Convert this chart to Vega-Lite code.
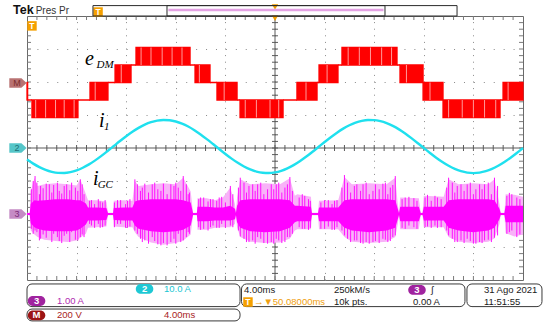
{
"$schema":"https://vega.github.io/schema/vega-lite/v6.json",
"width":496,"height":264,"autosize":"none",
"padding":{"left":27,"top":16,"right":22,"bottom":42},
"background":"#ffffff",
"config":{"view":{"stroke":"#6a6a6a","strokeWidth":1},"font":"Liberation Sans"},
"datasets":{
"xt":[{"t":0.8},{"t":1.6},{"t":2.4},{"t":3.2},{"t":4},{"t":4.8},{"t":5.6},{"t":6.4},{"t":7.2},{"t":8},{"t":8.8},{"t":9.6},{"t":10.4},{"t":11.2},{"t":12},{"t":12.8},{"t":13.6},{"t":14.4},{"t":15.2},{"t":16},{"t":16.8},{"t":17.6},{"t":18.4},{"t":19.2},{"t":20},{"t":20.8},{"t":21.6},{"t":22.4},{"t":23.2},{"t":24},{"t":24.8},{"t":25.6},{"t":26.4},{"t":27.2},{"t":28},{"t":28.8},{"t":29.6},{"t":30.4},{"t":31.2},{"t":32},{"t":32.8},{"t":33.6},{"t":34.4},{"t":35.2},{"t":36},{"t":36.8},{"t":37.6},{"t":38.4},{"t":39.2}],
"yt":[{"v":-3.8},{"v":-3.6},{"v":-3.4},{"v":-3.2},{"v":-3},{"v":-2.8},{"v":-2.6},{"v":-2.4},{"v":-2.2},{"v":-2},{"v":-1.8},{"v":-1.6},{"v":-1.4},{"v":-1.2},{"v":-1},{"v":-0.8},{"v":-0.6},{"v":-0.4},{"v":-0.2},{"v":0},{"v":0.2},{"v":0.4},{"v":0.6},{"v":0.8},{"v":1},{"v":1.2},{"v":1.4},{"v":1.6},{"v":1.8},{"v":2},{"v":2.2},{"v":2.4},{"v":2.6},{"v":2.8},{"v":3},{"v":3.2},{"v":3.4},{"v":3.6},{"v":3.8}],
"edm":[
{"t0":0,"t1":0.05,"lo":-106,"hi":0},
{"t0":0.05,"t1":0.4,"lo":-106,"hi":-106},
{"t0":0.4,"t1":4.11,"lo":-212,"hi":-106},
{"t0":4.11,"t1":5.08,"lo":-106,"hi":-106},
{"t0":5.08,"t1":6.53,"lo":-106,"hi":0},
{"t0":6.53,"t1":7.1,"lo":0,"hi":0},
{"t0":7.1,"t1":8.39,"lo":0,"hi":106},
{"t0":8.39,"t1":8.79,"lo":106,"hi":106},
{"t0":8.79,"t1":13.15,"lo":106,"hi":212},
{"t0":13.15,"t1":13.55,"lo":106,"hi":106},
{"t0":13.55,"t1":14.76,"lo":0,"hi":106},
{"t0":14.76,"t1":15.32,"lo":0,"hi":0},
{"t0":15.32,"t1":16.94,"lo":-106,"hi":0},
{"t0":16.94,"t1":17.18,"lo":-106,"hi":-106},
{"t0":17.18,"t1":20.65,"lo":-212,"hi":-106},
{"t0":20.65,"t1":21.77,"lo":-106,"hi":-106},
{"t0":21.77,"t1":23.39,"lo":-106,"hi":0},
{"t0":23.39,"t1":23.55,"lo":0,"hi":0},
{"t0":23.55,"t1":25.08,"lo":0,"hi":106},
{"t0":25.08,"t1":25.4,"lo":106,"hi":106},
{"t0":25.4,"t1":29.84,"lo":106,"hi":212},
{"t0":29.84,"t1":30.08,"lo":106,"hi":106},
{"t0":30.08,"t1":31.94,"lo":0,"hi":106},
{"t0":31.94,"t1":33.55,"lo":-106,"hi":0},
{"t0":33.55,"t1":38.15,"lo":-212,"hi":-106},
{"t0":38.15,"t1":38.39,"lo":-106,"hi":-106},
{"t0":38.39,"t1":40,"lo":-106,"hi":0}],
"eds":[
{"t":0.7,"lo":-212,"hi":-106},{"t":1.5,"lo":-212,"hi":-106},{"t":2.3,"lo":-212,"hi":-106},{"t":3.0,"lo":-212,"hi":-106},{"t":3.8,"lo":-212,"hi":-106},
{"t":5.5,"lo":-106,"hi":0},{"t":7.6,"lo":0,"hi":106},
{"t":9.2,"lo":106,"hi":212},{"t":10.0,"lo":106,"hi":212},{"t":10.9,"lo":106,"hi":212},{"t":11.7,"lo":106,"hi":212},{"t":12.5,"lo":106,"hi":212},
{"t":13.9,"lo":0,"hi":106},{"t":15.9,"lo":-106,"hi":0},
{"t":17.6,"lo":-212,"hi":-106},{"t":18.5,"lo":-212,"hi":-106},{"t":19.6,"lo":-212,"hi":-106},{"t":20.3,"lo":-212,"hi":-106},
{"t":22.5,"lo":-106,"hi":0},{"t":24.2,"lo":0,"hi":106},
{"t":25.9,"lo":106,"hi":212},{"t":26.8,"lo":106,"hi":212},{"t":27.7,"lo":106,"hi":212},{"t":28.6,"lo":106,"hi":212},{"t":29.4,"lo":106,"hi":212},
{"t":30.6,"lo":0,"hi":106},{"t":32.5,"lo":-106,"hi":0},
{"t":34.0,"lo":-212,"hi":-106},{"t":35.1,"lo":-212,"hi":-106},{"t":36.0,"lo":-212,"hi":-106},{"t":36.9,"lo":-212,"hi":-106},{"t":37.8,"lo":-212,"hi":-106},
{"t":38.8,"lo":-106,"hi":0}],
"i1":[{"t":0,"i":-3.49},{"t":0.5,"i":-4.74},{"t":1,"i":-5.8},{"t":1.5,"i":-6.64},{"t":2,"i":-7.23},{"t":2.5,"i":-7.55},{"t":3,"i":-7.58},{"t":3.5,"i":-7.32},{"t":4,"i":-6.78},{"t":4.5,"i":-5.99},{"t":5,"i":-4.97},{"t":5.5,"i":-3.75},{"t":6,"i":-2.38},{"t":6.5,"i":-0.91},{"t":7,"i":0.6},{"t":7.5,"i":2.11},{"t":8,"i":3.57},{"t":8.5,"i":4.91},{"t":9,"i":6.09},{"t":9.5,"i":7.07},{"t":10,"i":7.81},{"t":10.5,"i":8.29},{"t":11,"i":8.49},{"t":11.5,"i":8.41},{"t":12,"i":8.04},{"t":12.5,"i":7.4},{"t":13,"i":6.51},{"t":13.5,"i":5.4},{"t":14,"i":4.12},{"t":14.5,"i":2.7},{"t":15,"i":1.21},{"t":15.5,"i":-0.31},{"t":16,"i":-1.8},{"t":16.5,"i":-3.22},{"t":17,"i":-4.5},{"t":17.5,"i":-5.61},{"t":18,"i":-6.5},{"t":18.5,"i":-7.14},{"t":19,"i":-7.51},{"t":19.5,"i":-7.59},{"t":20,"i":-7.39},{"t":20.5,"i":-6.91},{"t":21,"i":-6.17},{"t":21.5,"i":-5.19},{"t":22,"i":-4.01},{"t":22.5,"i":-2.67},{"t":23,"i":-1.21},{"t":23.5,"i":0.3},{"t":24,"i":1.81},{"t":24.5,"i":3.28},{"t":25,"i":4.65},{"t":25.5,"i":5.87},{"t":26,"i":6.89},{"t":26.5,"i":7.68},{"t":27,"i":8.22},{"t":27.5,"i":8.48},{"t":28,"i":8.45},{"t":28.5,"i":8.13},{"t":29,"i":7.54},{"t":29.5,"i":6.7},{"t":30,"i":5.64},{"t":30.5,"i":4.39},{"t":31,"i":2.99},{"t":31.5,"i":1.51},{"t":32,"i":-0.01},{"t":32.5,"i":-1.51},{"t":33,"i":-2.95},{"t":33.5,"i":-4.26},{"t":34,"i":-5.4},{"t":34.5,"i":-6.34},{"t":35,"i":-7.03},{"t":35.5,"i":-7.46},{"t":36,"i":-7.6},{"t":36.5,"i":-7.46},{"t":37,"i":-7.03},{"t":37.5,"i":-6.34},{"t":38,"i":-5.4},{"t":38.5,"i":-4.26},{"t":39,"i":-2.94},{"t":39.5,"i":-1.51},{"t":40,"i":0}],
"igc":[
{"t":0,"hi":0.04,"lo":-0.04,"chi":0.03,"clo":-0.03},
{"t":0.22,"hi":0.04,"lo":-0.04,"chi":0.03,"clo":-0.03},
{"t":0.3,"hi":0.7,"lo":-0.5,"chi":0.3,"clo":-0.28},
{"t":0.6,"hi":1.1,"lo":-0.62,"chi":0.42,"clo":-0.4},
{"t":0.85,"hi":0.85,"lo":-0.7,"chi":0.4,"clo":-0.45},
{"t":1.4,"hi":0.9,"lo":-0.78,"chi":0.42,"clo":-0.5},
{"t":2.3,"hi":0.93,"lo":-0.82,"chi":0.45,"clo":-0.52},
{"t":3.3,"hi":0.9,"lo":-0.85,"chi":0.45,"clo":-0.52},
{"t":4.0,"hi":0.86,"lo":-0.8,"chi":0.42,"clo":-0.5},
{"t":4.3,"hi":1.05,"lo":-0.72,"chi":0.42,"clo":-0.45},
{"t":4.75,"hi":0.6,"lo":-0.6,"chi":0.32,"clo":-0.32},
{"t":4.92,"hi":0.42,"lo":-0.42,"chi":0.2,"clo":-0.2},
{"t":5.6,"hi":0.42,"lo":-0.4,"chi":0.2,"clo":-0.2},
{"t":6.4,"hi":0.38,"lo":-0.38,"chi":0.18,"clo":-0.18},
{"t":6.53,"hi":0.04,"lo":-0.04,"chi":0.03,"clo":-0.03},
{"t":6.94,"hi":0.04,"lo":-0.04,"chi":0.03,"clo":-0.03},
{"t":7.0,"hi":0.4,"lo":-0.38,"chi":0.18,"clo":-0.18},
{"t":7.8,"hi":0.42,"lo":-0.4,"chi":0.2,"clo":-0.2},
{"t":8.5,"hi":0.4,"lo":-0.4,"chi":0.2,"clo":-0.2},
{"t":8.7,"hi":1.0,"lo":-0.55,"chi":0.38,"clo":-0.35},
{"t":9.0,"hi":0.85,"lo":-0.7,"chi":0.42,"clo":-0.45},
{"t":10.0,"hi":0.9,"lo":-0.86,"chi":0.45,"clo":-0.52},
{"t":11.0,"hi":0.93,"lo":-0.93,"chi":0.45,"clo":-0.55},
{"t":12.0,"hi":0.9,"lo":-0.88,"chi":0.45,"clo":-0.52},
{"t":12.6,"hi":1.1,"lo":-0.8,"chi":0.42,"clo":-0.48},
{"t":13.2,"hi":0.68,"lo":-0.62,"chi":0.35,"clo":-0.35},
{"t":13.39,"hi":0.04,"lo":-0.04,"chi":0.03,"clo":-0.03},
{"t":13.7,"hi":0.04,"lo":-0.04,"chi":0.03,"clo":-0.03},
{"t":13.75,"hi":0.48,"lo":-0.48,"chi":0.22,"clo":-0.22},
{"t":14.5,"hi":0.48,"lo":-0.48,"chi":0.22,"clo":-0.22},
{"t":15.16,"hi":0.42,"lo":-0.42,"chi":0.2,"clo":-0.2},
{"t":15.8,"hi":0.5,"lo":-0.4,"chi":0.2,"clo":-0.2},
{"t":16.4,"hi":0.8,"lo":-0.4,"chi":0.25,"clo":-0.2},
{"t":16.77,"hi":0.3,"lo":-0.3,"chi":0.16,"clo":-0.16},
{"t":16.85,"hi":0.04,"lo":-0.04,"chi":0.03,"clo":-0.03},
{"t":16.94,"hi":0.5,"lo":-0.4,"chi":0.25,"clo":-0.25},
{"t":17.2,"hi":1.05,"lo":-0.7,"chi":0.42,"clo":-0.42},
{"t":18.0,"hi":0.9,"lo":-0.84,"chi":0.45,"clo":-0.52},
{"t":19.2,"hi":0.93,"lo":-0.88,"chi":0.45,"clo":-0.55},
{"t":20.4,"hi":0.9,"lo":-0.86,"chi":0.45,"clo":-0.52},
{"t":21.2,"hi":1.08,"lo":-0.74,"chi":0.42,"clo":-0.42},
{"t":21.6,"hi":0.55,"lo":-0.5,"chi":0.25,"clo":-0.25},
{"t":21.8,"hi":0.6,"lo":-0.46,"chi":0.25,"clo":-0.22},
{"t":22.9,"hi":0.52,"lo":-0.46,"chi":0.22,"clo":-0.22},
{"t":22.98,"hi":0.04,"lo":-0.04,"chi":0.03,"clo":-0.03},
{"t":23.47,"hi":0.04,"lo":-0.04,"chi":0.03,"clo":-0.03},
{"t":23.55,"hi":0.4,"lo":-0.46,"chi":0.2,"clo":-0.22},
{"t":25.1,"hi":0.42,"lo":-0.46,"chi":0.2,"clo":-0.22},
{"t":25.6,"hi":1.12,"lo":-0.7,"chi":0.42,"clo":-0.42},
{"t":26.2,"hi":0.9,"lo":-0.84,"chi":0.45,"clo":-0.5},
{"t":27.6,"hi":0.93,"lo":-0.88,"chi":0.45,"clo":-0.55},
{"t":29.0,"hi":0.9,"lo":-0.84,"chi":0.45,"clo":-0.5},
{"t":29.7,"hi":1.1,"lo":-0.7,"chi":0.42,"clo":-0.42},
{"t":29.9,"hi":0.3,"lo":-0.3,"chi":0.16,"clo":-0.16},
{"t":30.0,"hi":0.04,"lo":-0.04,"chi":0.03,"clo":-0.03},
{"t":30.1,"hi":0.5,"lo":-0.46,"chi":0.22,"clo":-0.22},
{"t":31.6,"hi":0.48,"lo":-0.46,"chi":0.22,"clo":-0.22},
{"t":31.75,"hi":0.04,"lo":-0.04,"chi":0.03,"clo":-0.03},
{"t":31.9,"hi":0.04,"lo":-0.04,"chi":0.03,"clo":-0.03},
{"t":32.0,"hi":0.55,"lo":-0.4,"chi":0.22,"clo":-0.2},
{"t":33.6,"hi":0.52,"lo":-0.4,"chi":0.22,"clo":-0.2},
{"t":34.0,"hi":1.05,"lo":-0.7,"chi":0.42,"clo":-0.42},
{"t":34.8,"hi":0.9,"lo":-0.84,"chi":0.45,"clo":-0.5},
{"t":36.0,"hi":0.93,"lo":-0.88,"chi":0.45,"clo":-0.55},
{"t":37.2,"hi":0.9,"lo":-0.84,"chi":0.45,"clo":-0.5},
{"t":37.7,"hi":1.05,"lo":-0.74,"chi":0.42,"clo":-0.42},
{"t":38.1,"hi":0.3,"lo":-0.3,"chi":0.16,"clo":-0.16},
{"t":38.2,"hi":0.04,"lo":-0.04,"chi":0.03,"clo":-0.03},
{"t":38.5,"hi":0.04,"lo":-0.04,"chi":0.03,"clo":-0.03},
{"t":38.6,"hi":0.6,"lo":-0.58,"chi":0.25,"clo":-0.25},
{"t":39.3,"hi":0.58,"lo":-0.68,"chi":0.25,"clo":-0.25},
{"t":40,"hi":0.52,"lo":-0.62,"chi":0.25,"clo":-0.25}],
"spk":[
{"t":0.5,"hi":1.0,"lo":-0.6},{"t":0.65,"hi":1.15,"lo":-0.5},{"t":1.1,"hi":0.85,"lo":-0.75},{"t":1.8,"hi":0.9,"lo":-0.5},{"t":2.6,"hi":0.7,"lo":-0.82},{"t":3.2,"hi":0.9,"lo":-0.6},{"t":3.9,"hi":0.8,"lo":-0.78},{"t":4.3,"hi":1.05,"lo":-0.7},{"t":4.6,"hi":0.6,"lo":-0.7},
{"t":5.2,"hi":0.42,"lo":-0.35},{"t":5.9,"hi":0.38,"lo":-0.42},{"t":7.3,"hi":0.42,"lo":-0.3},{"t":8.1,"hi":0.4,"lo":-0.42},
{"t":8.7,"hi":1.05,"lo":-0.5},{"t":9.3,"hi":0.8,"lo":-0.85},{"t":10.1,"hi":0.9,"lo":-0.7},{"t":10.8,"hi":0.7,"lo":-0.95},{"t":11.6,"hi":0.9,"lo":-0.85},{"t":12.2,"hi":0.8,"lo":-0.6},{"t":12.6,"hi":1.15,"lo":-0.8},{"t":13.1,"hi":0.65,"lo":-0.6},
{"t":14.0,"hi":0.5,"lo":-0.48},{"t":14.8,"hi":0.45,"lo":-0.4},{"t":15.5,"hi":0.5,"lo":-0.42},{"t":16.4,"hi":0.85,"lo":-0.35},
{"t":17.2,"hi":1.1,"lo":-0.68},{"t":17.9,"hi":0.85,"lo":-0.85},{"t":18.6,"hi":0.9,"lo":-0.7},{"t":19.4,"hi":0.75,"lo":-0.9},{"t":20.1,"hi":0.9,"lo":-0.75},{"t":20.8,"hi":0.8,"lo":-0.85},{"t":21.2,"hi":1.12,"lo":-0.7},
{"t":22.2,"hi":0.6,"lo":-0.45},{"t":22.7,"hi":0.45,"lo":-0.48},{"t":24.0,"hi":0.42,"lo":-0.45},{"t":24.8,"hi":0.4,"lo":-0.48},
{"t":25.6,"hi":1.18,"lo":-0.65},{"t":26.4,"hi":0.85,"lo":-0.8},{"t":27.1,"hi":0.9,"lo":-0.9},{"t":27.9,"hi":0.7,"lo":-0.85},{"t":28.7,"hi":0.92,"lo":-0.75},{"t":29.3,"hi":0.8,"lo":-0.82},{"t":29.7,"hi":1.15,"lo":-0.65},
{"t":30.5,"hi":0.5,"lo":-0.45},{"t":31.2,"hi":0.48,"lo":-0.4},{"t":32.3,"hi":0.58,"lo":-0.38},{"t":33.1,"hi":0.5,"lo":-0.42},
{"t":34.0,"hi":1.1,"lo":-0.65},{"t":34.7,"hi":0.85,"lo":-0.85},{"t":35.5,"hi":0.9,"lo":-0.75},{"t":36.2,"hi":0.75,"lo":-0.9},{"t":36.9,"hi":0.9,"lo":-0.8},{"t":37.7,"hi":1.1,"lo":-0.72},
{"t":38.9,"hi":0.64,"lo":-0.55},{"t":39.5,"hi":0.5,"lo":-0.7},
{"t":0.35,"hi":0.75,"lo":-0.45},{"t":0.8,"hi":0.95,"lo":-0.55},{"t":1.0,"hi":0.6,"lo":-0.8},{"t":1.3,"hi":0.78,"lo":-0.62},{"t":1.55,"hi":0.92,"lo":-0.72},{"t":2.0,"hi":0.65,"lo":-0.85},{"t":2.15,"hi":0.88,"lo":-0.6},{"t":2.45,"hi":0.95,"lo":-0.7},{"t":2.8,"hi":0.62,"lo":-0.88},{"t":3.0,"hi":0.85,"lo":-0.66},{"t":3.45,"hi":0.72,"lo":-0.85},{"t":3.6,"hi":0.95,"lo":-0.55},{"t":4.1,"hi":0.7,"lo":-0.8},{"t":4.45,"hi":0.9,"lo":-0.62},
{"t":5.05,"hi":0.4,"lo":-0.3},{"t":5.45,"hi":0.3,"lo":-0.42},{"t":5.75,"hi":0.45,"lo":-0.3},{"t":6.1,"hi":0.35,"lo":-0.4},{"t":6.3,"hi":0.42,"lo":-0.35},
{"t":7.05,"hi":0.35,"lo":-0.4},{"t":7.55,"hi":0.42,"lo":-0.3},{"t":7.95,"hi":0.3,"lo":-0.42},{"t":8.3,"hi":0.45,"lo":-0.38},
{"t":8.9,"hi":0.9,"lo":-0.6},{"t":9.15,"hi":0.7,"lo":-0.75},{"t":9.5,"hi":0.92,"lo":-0.8},{"t":9.8,"hi":0.65,"lo":-0.9},{"t":10.3,"hi":0.95,"lo":-0.82},{"t":10.55,"hi":0.75,"lo":-0.92},{"t":11.0,"hi":0.92,"lo":-0.88},{"t":11.3,"hi":0.6,"lo":-0.95},{"t":11.85,"hi":0.85,"lo":-0.75},{"t":12.0,"hi":0.95,"lo":-0.9},{"t":12.4,"hi":0.7,"lo":-0.85},{"t":12.85,"hi":0.9,"lo":-0.7},{"t":13.0,"hi":0.6,"lo":-0.55},
{"t":13.85,"hi":0.45,"lo":-0.4},{"t":14.25,"hi":0.5,"lo":-0.45},{"t":14.6,"hi":0.38,"lo":-0.5},{"t":15.0,"hi":0.45,"lo":-0.35},{"t":15.3,"hi":0.4,"lo":-0.42},{"t":15.7,"hi":0.52,"lo":-0.3},{"t":16.0,"hi":0.35,"lo":-0.42},{"t":16.6,"hi":0.6,"lo":-0.4},
{"t":17.05,"hi":0.8,"lo":-0.5},{"t":17.5,"hi":0.95,"lo":-0.75},{"t":17.7,"hi":0.65,"lo":-0.85},{"t":18.2,"hi":0.9,"lo":-0.8},{"t":18.4,"hi":0.7,"lo":-0.9},{"t":18.85,"hi":0.95,"lo":-0.75},{"t":19.1,"hi":0.6,"lo":-0.88},{"t":19.7,"hi":0.9,"lo":-0.85},{"t":19.9,"hi":0.75,"lo":-0.9},{"t":20.3,"hi":0.95,"lo":-0.8},{"t":20.55,"hi":0.65,"lo":-0.88},{"t":21.0,"hi":0.9,"lo":-0.7},{"t":21.4,"hi":0.7,"lo":-0.6},
{"t":21.95,"hi":0.5,"lo":-0.4},{"t":22.4,"hi":0.55,"lo":-0.45},{"t":22.85,"hi":0.4,"lo":-0.42},{"t":23.7,"hi":0.35,"lo":-0.45},{"t":24.3,"hi":0.42,"lo":-0.38},{"t":24.6,"hi":0.3,"lo":-0.48},{"t":25.0,"hi":0.42,"lo":-0.4},
{"t":25.4,"hi":0.8,"lo":-0.5},{"t":25.85,"hi":0.95,"lo":-0.75},{"t":26.1,"hi":0.65,"lo":-0.85},{"t":26.6,"hi":0.9,"lo":-0.8},{"t":26.9,"hi":0.7,"lo":-0.88},{"t":27.35,"hi":0.95,"lo":-0.85},{"t":27.6,"hi":0.6,"lo":-0.9},{"t":28.1,"hi":0.9,"lo":-0.82},{"t":28.4,"hi":0.75,"lo":-0.88},{"t":28.9,"hi":0.95,"lo":-0.78},{"t":29.1,"hi":0.6,"lo":-0.85},{"t":29.5,"hi":0.88,"lo":-0.7},
{"t":30.25,"hi":0.45,"lo":-0.42},{"t":30.8,"hi":0.52,"lo":-0.35},{"t":31.45,"hi":0.4,"lo":-0.45},{"t":32.1,"hi":0.5,"lo":-0.4},{"t":32.6,"hi":0.4,"lo":-0.42},{"t":32.9,"hi":0.55,"lo":-0.35},{"t":33.4,"hi":0.45,"lo":-0.4},
{"t":33.85,"hi":0.8,"lo":-0.5},{"t":34.3,"hi":0.95,"lo":-0.75},{"t":34.5,"hi":0.65,"lo":-0.85},{"t":35.0,"hi":0.9,"lo":-0.8},{"t":35.25,"hi":0.7,"lo":-0.88},{"t":35.75,"hi":0.95,"lo":-0.82},{"t":36.0,"hi":0.6,"lo":-0.9},{"t":36.5,"hi":0.9,"lo":-0.85},{"t":36.7,"hi":0.75,"lo":-0.88},{"t":37.2,"hi":0.95,"lo":-0.78},{"t":37.45,"hi":0.6,"lo":-0.85},{"t":37.95,"hi":0.85,"lo":-0.65},
{"t":38.7,"hi":0.55,"lo":-0.6},{"t":39.1,"hi":0.6,"lo":-0.5},{"t":39.75,"hi":0.45,"lo":-0.62}],
"sigmain":[{"t":4.68,"v":2.515,"s":"e"},{"t":5.8,"v":0.636,"s":"i"},{"t":5.32,"v":-1.12,"s":"i"}],
"sigsub":[{"t":5.6,"v":2.42,"s":"DM"},{"t":6.2,"v":0.545,"s":"1"},{"t":5.7,"v":-1.21,"s":"GC"}],
"boxes":[{"t0":0,"t1":17.18,"v0":-4.12,"v1":-4.806},{"t0":0,"t1":17.18,"v0":-4.88,"v1":-5.24},{"t0":17.3,"t1":35.32,"v0":-4.12,"v1":-4.806},{"t0":35.48,"t1":41.53,"v0":-4.12,"v1":-4.806}],
"badges":[{"t":9.48,"v":-4.27,"s":"2","g":"c2"},{"t":0.77,"v":-4.636,"s":"3","g":"c3"},{"t":0.77,"v":-5.07,"s":"M","g":"m"},{"t":31.45,"v":-4.3,"s":"3","g":"c3"}],
"info":[{"t":11.05,"v":-4.27,"s":"10.0 A","g":"c2"},{"t":2.42,"v":-4.636,"s":"1.00 A","g":"c3"},{"t":2.42,"v":-5.07,"s":"200 V","g":"m"},{"t":11.05,"v":-5.07,"s":"4.00ms","g":"m"},{"t":17.5,"v":-4.3,"s":"4.00ms","g":"k"},{"t":24.76,"v":-4.3,"s":"250kM/s","g":"k"},{"t":18.3,"v":-4.667,"s":"→▼50.08000ms","g":"o"},{"t":24.76,"v":-4.667,"s":"10k pts.","g":"k"},{"t":31.13,"v":-4.667,"s":"0.00 A","g":"k"},{"t":36.85,"v":-4.3,"s":"31 Ago 2021","g":"k"},{"t":36.85,"v":-4.667,"s":"11:51:55","g":"k"},{"t":32.6,"v":-4.3,"s":"ʃ","g":"k"}],
"markers":[{"t":-0.73,"v":1.97,"s":"M","g":"m"},{"t":-0.73,"v":0,"s":"2","g":"c2"},{"t":-0.73,"v":-2,"s":"3","g":"c3"}],
"orangeT":[{"t":0.4,"v":3.7},{"t":5.73,"v":4.12},{"t":17.82,"v":-4.667}],
"tri":[{"t":20,"v":3.93},{"t":20,"v":4.27}],
"topboxes":[{"t0":5.32,"t1":34.68,"v0":4.0,"v1":4.315},{"t0":11.29,"t1":28.87,"v0":4.0,"v1":4.315}],
"topline":[{"t0":11.4,"t1":28.75,"v":4.18}],
"brand":[{"t":-1.13,"v":4.06,"s":"Tek"}],
"brand2":[{"t":0.7,"v":4.06,"s":"Pres Pr"}]
},
"resolve":{"scale":{"y":"independent","color":"independent"},"axis":{"x":"independent","y":"independent"}},
"layer":[
{"data":{"values":[{"t":20}]},"mark":{"type":"rule","color":"#5a5a5a","strokeWidth":1},
 "encoding":{"x":{"field":"t","type":"quantitative","scale":{"domain":[0,40],"nice":false},"axis":{"orient":"bottom","values":[4,8,12,16,20,24,28,32,36],"grid":true,"gridDash":[1,5.6],"gridColor":"#8a8a8a","gridOpacity":1,"labels":false,"ticks":false,"domain":false,"title":null}}}},
{"data":{"values":[{"v":0}]},"mark":{"type":"rule","color":"#5a5a5a","strokeWidth":1},
 "encoding":{"y":{"field":"v","type":"quantitative","scale":{"domain":[-4,4],"nice":false},"axis":{"orient":"left","values":[-3,-2,-1,1,2,3],"grid":true,"gridDash":[1,8.92],"gridColor":"#8a8a8a","gridOpacity":1,"labels":false,"ticks":false,"domain":false,"title":null}}}},
{"data":{"name":"xt"},"mark":{"type":"tick","orient":"vertical","size":6,"thickness":1,"color":"#5a5a5a","opacity":1},
 "encoding":{"x":{"field":"t","type":"quantitative","scale":{"domain":[0,40],"nice":false},"axis":null},"y":{"datum":0,"type":"quantitative","scale":{"domain":[-4,4],"nice":false},"axis":null}}},
{"data":{"name":"xt"},"mark":{"type":"tick","orient":"vertical","size":4,"thickness":1,"color":"#7a7a7a","opacity":1},
 "encoding":{"x":{"field":"t","type":"quantitative","scale":{"domain":[0,40],"nice":false},"axis":null},"y":{"datum":3.94,"type":"quantitative","scale":{"domain":[-4,4],"nice":false},"axis":null}}},
{"data":{"name":"xt"},"mark":{"type":"tick","orient":"vertical","size":4,"thickness":1,"color":"#7a7a7a","opacity":1},
 "encoding":{"x":{"field":"t","type":"quantitative","scale":{"domain":[0,40],"nice":false},"axis":null},"y":{"datum":-3.94,"type":"quantitative","scale":{"domain":[-4,4],"nice":false},"axis":null}}},
{"data":{"name":"yt"},"mark":{"type":"tick","orient":"horizontal","size":6,"thickness":1,"color":"#5a5a5a","opacity":1},
 "encoding":{"y":{"field":"v","type":"quantitative","scale":{"domain":[-4,4],"nice":false},"axis":null},"x":{"datum":20,"type":"quantitative","scale":{"domain":[0,40],"nice":false},"axis":null}}},
{"data":{"name":"yt"},"mark":{"type":"tick","orient":"horizontal","size":4,"thickness":1,"color":"#7a7a7a","opacity":1},
 "encoding":{"y":{"field":"v","type":"quantitative","scale":{"domain":[-4,4],"nice":false},"axis":null},"x":{"datum":0.16,"type":"quantitative","scale":{"domain":[0,40],"nice":false},"axis":null}}},
{"data":{"name":"yt"},"mark":{"type":"tick","orient":"horizontal","size":4,"thickness":1,"color":"#7a7a7a","opacity":1},
 "encoding":{"y":{"field":"v","type":"quantitative","scale":{"domain":[-4,4],"nice":false},"axis":null},"x":{"datum":39.84,"type":"quantitative","scale":{"domain":[0,40],"nice":false},"axis":null}}},
{"data":{"name":"edm"},"mark":{"type":"rect","fill":"#ff0000","stroke":"#ff0000","strokeWidth":1.3},
 "encoding":{"x":{"field":"t0","type":"quantitative","scale":{"domain":[0,40],"nice":false},"axis":null},"x2":{"field":"t1"},"y":{"field":"lo","type":"quantitative","scale":{"domain":[-1197,403],"nice":false},"axis":null},"y2":{"field":"hi"}}},
{"data":{"name":"eds"},"mark":{"type":"rule","color":"#ff9a9a","strokeWidth":1},
 "encoding":{"x":{"field":"t","type":"quantitative","scale":{"domain":[0,40],"nice":false},"axis":null},"y":{"field":"lo","type":"quantitative","scale":{"domain":[-1197,403],"nice":false},"axis":null},"y2":{"field":"hi"}}},
{"data":{"name":"igc"},"mark":{"type":"area","color":"#f8b2f8","opacity":1},
 "encoding":{"x":{"field":"t","type":"quantitative","scale":{"domain":[0,40],"nice":false},"axis":null},"y":{"field":"hi","type":"quantitative","scale":{"domain":[-2,6],"nice":false},"axis":null},"y2":{"field":"lo"}}},
{"data":{"name":"spk"},"mark":{"type":"rule","color":"#ff10ff","strokeWidth":1},
 "encoding":{"x":{"field":"t","type":"quantitative","scale":{"domain":[0,40],"nice":false},"axis":null},"y":{"field":"hi","type":"quantitative","scale":{"domain":[-2,6],"nice":false},"axis":null},"y2":{"field":"lo"}}},
{"data":{"name":"igc"},"mark":{"type":"area","color":"#ff00ff","opacity":1},
 "encoding":{"x":{"field":"t","type":"quantitative","scale":{"domain":[0,40],"nice":false},"axis":null},"y":{"field":"chi","type":"quantitative","scale":{"domain":[-2,6],"nice":false},"axis":null},"y2":{"field":"clo"}}},
{"data":{"name":"i1"},"mark":{"type":"line","color":"#1fe0ee","strokeWidth":2.4,"interpolate":"monotone"},
 "encoding":{"x":{"field":"t","type":"quantitative","scale":{"domain":[0,40],"nice":false},"axis":null},"y":{"field":"i","type":"quantitative","scale":{"domain":[-40,40],"nice":false},"axis":null}}},
{"data":{"name":"sigmain"},"mark":{"type":"text","font":"Liberation Serif","fontStyle":"italic","fontSize":20,"align":"left","baseline":"alphabetic","color":"#000000"},
 "encoding":{"x":{"field":"t","type":"quantitative","scale":{"domain":[0,40],"nice":false},"axis":null},"y":{"field":"v","type":"quantitative","scale":{"domain":[-4,4],"nice":false},"axis":null},"text":{"field":"s"}}},
{"data":{"name":"sigsub"},"mark":{"type":"text","font":"Liberation Serif","fontStyle":"italic","fontSize":11,"align":"left","baseline":"alphabetic","color":"#000000"},
 "encoding":{"x":{"field":"t","type":"quantitative","scale":{"domain":[0,40],"nice":false},"axis":null},"y":{"field":"v","type":"quantitative","scale":{"domain":[-4,4],"nice":false},"axis":null},"text":{"field":"s"}}},
{"data":{"name":"boxes"},"mark":{"type":"rect","fill":"#ffffff","stroke":"#3a3a3a","strokeWidth":1,"cornerRadius":5},
 "encoding":{"x":{"field":"t0","type":"quantitative","scale":{"domain":[0,40],"nice":false},"axis":null},"x2":{"field":"t1"},"y":{"field":"v0","type":"quantitative","scale":{"domain":[-4,4],"nice":false},"axis":null},"y2":{"field":"v1"}}},
{"data":{"name":"badges"},"mark":{"type":"point","filled":true,"opacity":1,"size":289,"shape":"M -0.45 -0.58 L 0.45 -0.58 A 0.58 0.58 0 0 1 0.45 0.58 L -0.45 0.58 A 0.58 0.58 0 0 1 -0.45 -0.58 Z"},
 "encoding":{"x":{"field":"t","type":"quantitative","scale":{"domain":[0,40],"nice":false},"axis":null},"y":{"field":"v","type":"quantitative","scale":{"domain":[-4,4],"nice":false},"axis":null},"color":{"field":"g","type":"nominal","scale":{"domain":["c2","c3","m"],"range":["#1ec8d4","#a0239f","#9c1414"]},"legend":null}}},
{"data":{"name":"badges"},"mark":{"type":"text","fontSize":9.5,"fontWeight":"bold","color":"#ffffff","align":"center","baseline":"middle"},
 "encoding":{"x":{"field":"t","type":"quantitative","scale":{"domain":[0,40],"nice":false},"axis":null},"y":{"field":"v","type":"quantitative","scale":{"domain":[-4,4],"nice":false},"axis":null},"text":{"field":"s"}}},
{"data":{"name":"info"},"mark":{"type":"text","fontSize":9.5,"align":"left","baseline":"middle"},
 "encoding":{"x":{"field":"t","type":"quantitative","scale":{"domain":[0,40],"nice":false},"axis":null},"y":{"field":"v","type":"quantitative","scale":{"domain":[-4,4],"nice":false},"axis":null},"text":{"field":"s"},"color":{"field":"g","type":"nominal","scale":{"domain":["c2","c3","m","k","o"],"range":["#19c6d2","#b12cb1","#a81c1c","#1a1a1a","#f0a010"]},"legend":null}}},
{"data":{"name":"markers"},"mark":{"type":"point","filled":true,"opacity":1,"size":300,"shape":"M -1 -0.55 L 0.4 -0.55 L 1 0 L 0.4 0.55 L -1 0.55 Z"},
 "encoding":{"x":{"field":"t","type":"quantitative","scale":{"domain":[0,40],"nice":false},"axis":null},"y":{"field":"v","type":"quantitative","scale":{"domain":[-4,4],"nice":false},"axis":null},"color":{"field":"g","type":"nominal","scale":{"domain":["m","c2","c3"],"range":["#b87272","#55c6c9","#c58bc5"]},"legend":null}}},
{"data":{"name":"markers"},"mark":{"type":"text","fontSize":9,"align":"center","baseline":"middle","dx":-1},
 "encoding":{"x":{"field":"t","type":"quantitative","scale":{"domain":[0,40],"nice":false},"axis":null},"y":{"field":"v","type":"quantitative","scale":{"domain":[-4,4],"nice":false},"axis":null},"text":{"field":"s"},"color":{"field":"g","type":"nominal","scale":{"domain":["m","c2","c3"],"range":["#7a2e2e","#1d6f75","#7b2b7b"]},"legend":null}}},
{"data":{"name":"orangeT"},"mark":{"type":"point","filled":true,"opacity":1,"size":90,"shape":"square","color":"#f5a000"},
 "encoding":{"x":{"field":"t","type":"quantitative","scale":{"domain":[0,40],"nice":false},"axis":null},"y":{"field":"v","type":"quantitative","scale":{"domain":[-4,4],"nice":false},"axis":null}}},
{"data":{"name":"orangeT"},"mark":{"type":"text","fontSize":8.5,"fontWeight":"bold","color":"#ffffff","align":"center","baseline":"middle","text":"T"},
 "encoding":{"x":{"field":"t","type":"quantitative","scale":{"domain":[0,40],"nice":false},"axis":null},"y":{"field":"v","type":"quantitative","scale":{"domain":[-4,4],"nice":false},"axis":null}}},
{"data":{"name":"tri"},"mark":{"type":"point","filled":true,"opacity":1,"size":40,"shape":"triangle-down","color":"#f5a000"},
 "encoding":{"x":{"field":"t","type":"quantitative","scale":{"domain":[0,40],"nice":false},"axis":null},"y":{"field":"v","type":"quantitative","scale":{"domain":[-4,4],"nice":false},"axis":null}}},
{"data":{"name":"topboxes"},"mark":{"type":"rect","fill":null,"fillOpacity":0,"stroke":"#2a2a2a","strokeWidth":1},
 "encoding":{"x":{"field":"t0","type":"quantitative","scale":{"domain":[0,40],"nice":false},"axis":null},"x2":{"field":"t1"},"y":{"field":"v0","type":"quantitative","scale":{"domain":[-4,4],"nice":false},"axis":null},"y2":{"field":"v1"}}},
{"data":{"name":"topline"},"mark":{"type":"rule","color":"#e4a2e4","strokeWidth":2.5},
 "encoding":{"x":{"field":"t0","type":"quantitative","scale":{"domain":[0,40],"nice":false},"axis":null},"x2":{"field":"t1"},"y":{"field":"v","type":"quantitative","scale":{"domain":[-4,4],"nice":false},"axis":null}}},
{"data":{"name":"brand"},"mark":{"type":"text","fontSize":12.5,"fontWeight":"bold","align":"left","baseline":"alphabetic","color":"#111111"},
 "encoding":{"x":{"field":"t","type":"quantitative","scale":{"domain":[0,40],"nice":false},"axis":null},"y":{"field":"v","type":"quantitative","scale":{"domain":[-4,4],"nice":false},"axis":null},"text":{"field":"s"}}},
{"data":{"name":"brand2"},"mark":{"type":"text","fontSize":10,"align":"left","baseline":"alphabetic","color":"#333333"},
 "encoding":{"x":{"field":"t","type":"quantitative","scale":{"domain":[0,40],"nice":false},"axis":null},"y":{"field":"v","type":"quantitative","scale":{"domain":[-4,4],"nice":false},"axis":null},"text":{"field":"s"}}}
]
}
